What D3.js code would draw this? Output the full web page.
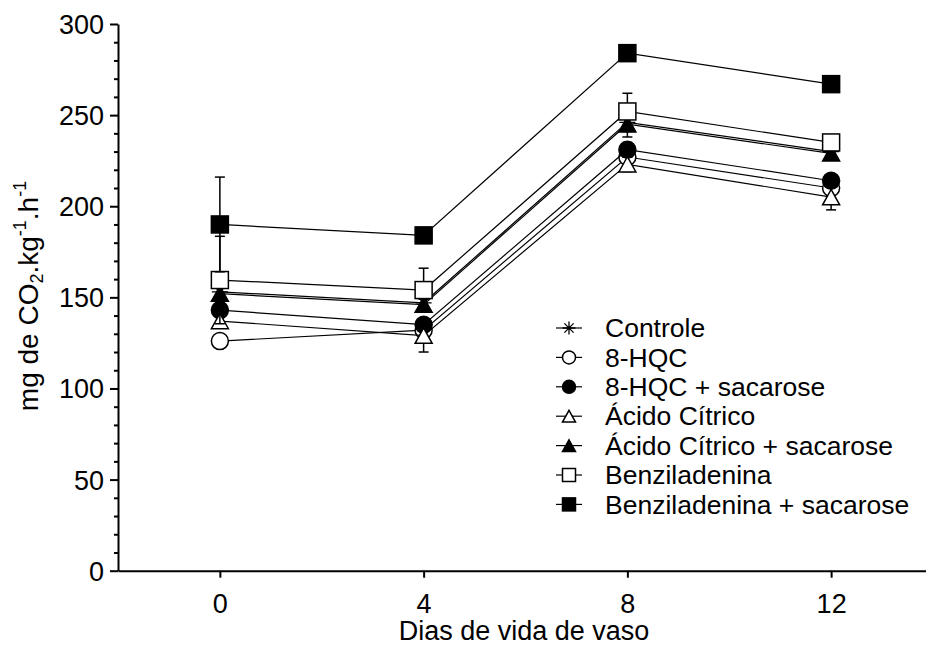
<!DOCTYPE html>
<html>
<head>
<meta charset="utf-8">
<script src="https://cdn.jsdelivr.net/npm/d3@7"></script>
<style>
  html, body { margin: 0; padding: 0; background: #fff; }
  svg { display: block; font-family: "Liberation Sans", Arial, sans-serif; }
</style>
</head>
<body>
<svg id="chart" width="926" height="647"></svg>
<script>
// Days of vase life (x) and CO2 production (mg CO2 kg-1 h-1)
const days = [0, 4, 8, 12];
const xTicks = [0, 4, 8, 12];
const yTicks = [0, 50, 100, 150, 200, 250, 300];

const seriesNames = [
  "Controle", "8-HQC", "8-HQC + sacarose", "Ácido Cítrico",
  "Ácido Cítrico + sacarose", "Benziladenina", "Benziladenina + sacarose"
];
const controle    = [153, 147, 246, 230];
const hqc         = [126, 132, 227, 210];
const hqcSac      = [143, 135, 231, 214];
const citrico     = [137, 129, 223, 205];
const citricoSac  = [152, 146, 245, 229];
const benz        = [159.5, 154, 252, 235];
const benzSac     = [190, 184, 284, 267];

// standard errors
const controleErr   = [4, 4, 5, 4];
const hqcErr        = [3, 4, 5, 4];
const hqcSacErr     = [4, 3, 4, 3];
const citricoErr    = [3, 9, 4, 7];
const citricoSacErr = [4, 3, 7, 3];
const benzErr       = [24, 12, 10, 4];
const benzSacErr    = [26, 4, 4, 4];

const symbols = ["star", "circleOpen", "circleFilled", "triOpen", "triFilled", "sqOpen", "sqFilled"];
const values = [controle, hqc, hqcSac, citrico, citricoSac, benz, benzSac];
const errors = [controleErr, hqcErr, hqcSacErr, citricoErr, citricoSacErr, benzErr, benzSacErr];

const series = seriesNames.map((name, i) => ({
  name, symbol: symbols[i],
  points: days.map((d, j) => ({ x: d, y: values[i][j], e: errors[i][j] }))
}));

const svg = d3.select("#chart");
const x = d3.scaleLinear().domain([-2, 14]).range([118, 933]);
const y = d3.scaleLinear().domain([0, 300]).range([570.7, 24]);

// marker drawing
function drawMarker(g, type, s) {
  const h = s / 2;
  if (type === "sqOpen" || type === "sqFilled") {
    g.append("rect").attr("x", -h).attr("y", -h).attr("width", s).attr("height", s)
      .attr("fill", type === "sqFilled" ? "#000" : "#fff").attr("stroke", "#000").attr("stroke-width", 1.5);
  } else if (type === "circleOpen" || type === "circleFilled") {
    g.append("circle").attr("r", h)
      .attr("fill", type === "circleFilled" ? "#000" : "#fff").attr("stroke", "#000").attr("stroke-width", 1.5);
  } else if (type === "triOpen" || type === "triFilled") {
    const th = s * 0.9;
    g.append("path").attr("d", `M0,${-th / 2}L${h},${th / 2}L${-h},${th / 2}Z`)
      .attr("fill", type === "triFilled" ? "#000" : "#fff").attr("stroke", "#000").attr("stroke-width", 1.5)
      .attr("stroke-linejoin", "miter");
  } else if (type === "star") {
    const p = [];
    for (let k = 0; k < 4; k++) {
      const a = k * Math.PI / 4;
      p.push(`M${-h * Math.cos(a)},${-h * Math.sin(a)}L${h * Math.cos(a)},${h * Math.sin(a)}`);
    }
    g.append("path").attr("d", p.join("")).attr("stroke", "#000").attr("stroke-width", 1.3).attr("fill", "none");
  }
}

// axes
const yAxis = d3.axisLeft(y).tickValues(yTicks).tickSize(8).tickPadding(6).tickSizeOuter(0);
const yAxisMinor = d3.axisLeft(y).tickValues(d3.range(0, 301, 10).filter(v => v % 50 !== 0))
  .tickSize(4).tickFormat("").tickSizeOuter(0);
const xAxis = d3.axisBottom(x).tickValues(xTicks).tickSize(7).tickPadding(16).tickSizeOuter(0);

const gy = svg.append("g").attr("transform", `translate(${x(-2)},0)`).call(yAxis);
svg.append("g").attr("transform", `translate(${x(-2)},0)`).call(yAxisMinor)
  .call(g => g.select(".domain").remove());
const gx = svg.append("g").attr("transform", `translate(0,${y(0)})`).call(xAxis);

[gy, gx].forEach(g => {
  g.select(".domain").attr("stroke-width", 2);
  g.selectAll(".tick text").attr("font-size", 27).attr("fill", "#000")
    .attr("font-family", "'Liberation Sans', Arial, sans-serif");
});
svg.selectAll(".tick line").attr("stroke", "#000").attr("stroke-width", 2);
gy.selectAll(".tick text").attr("dy", "0.35em");

// axis titles
svg.append("text").attr("x", 524).attr("y", 640).attr("text-anchor", "middle")
  .attr("font-size", 27).text("Dias de vida de vaso");

const yt = svg.append("text").attr("text-anchor", "middle")
  .attr("transform", "translate(38,296) rotate(-90)").attr("font-size", 28);
yt.append("tspan").text("mg de CO");
yt.append("tspan").attr("font-size", 18).attr("dy", 5).text("2");
yt.append("tspan").attr("dy", -5).text(".kg");
yt.append("tspan").attr("font-size", 18).attr("dy", -12).text("-1");
yt.append("tspan").attr("dy", 12).text(".h");
yt.append("tspan").attr("font-size", 18).attr("dy", -12).text("-1");

// series: connecting lines, error bars, markers
const line = d3.line().x(d => x(d.x)).y(d => y(d.y));
const plot = svg.append("g");
series.forEach(s => {
  const g = plot.append("g");
  g.append("path").datum(s.points).attr("d", line)
    .attr("fill", "none").attr("stroke", "#000").attr("stroke-width", 1.2);
  s.points.forEach(p => {
    g.append("line").attr("x1", x(p.x)).attr("x2", x(p.x))
      .attr("y1", y(p.y - p.e)).attr("y2", y(p.y + p.e))
      .attr("stroke", "#000").attr("stroke-width", 1.5);
    [p.y - p.e, p.y + p.e].forEach(v => {
      g.append("line").attr("x1", x(p.x) - 5).attr("x2", x(p.x) + 5)
        .attr("y1", y(v)).attr("y2", y(v)).attr("stroke", "#000").attr("stroke-width", 1.5);
    });
  });
  s.points.forEach(p => {
    const m = g.append("g").attr("transform", `translate(${x(p.x)},${y(p.y)})`);
    drawMarker(m, s.symbol, s.symbol === "star" ? 16 : 17);
  });
});

// legend
const legend = svg.append("g");
series.forEach((s, i) => {
  const cy = 328 + i * 29.4;
  const row = legend.append("g").attr("transform", `translate(0,${cy})`);
  row.append("line").attr("x1", 556).attr("x2", 582).attr("y1", 0).attr("y2", 0)
    .attr("stroke", "#000").attr("stroke-width", 1.2);
  const m = row.append("g").attr("transform", "translate(569,0)");
  drawMarker(m, s.symbol, 13);
  row.append("text").attr("x", 605).attr("y", 0).attr("dy", "0.35em")
    .attr("font-size", 26.5).text(s.name);
});
</script>
</body>
</html>
